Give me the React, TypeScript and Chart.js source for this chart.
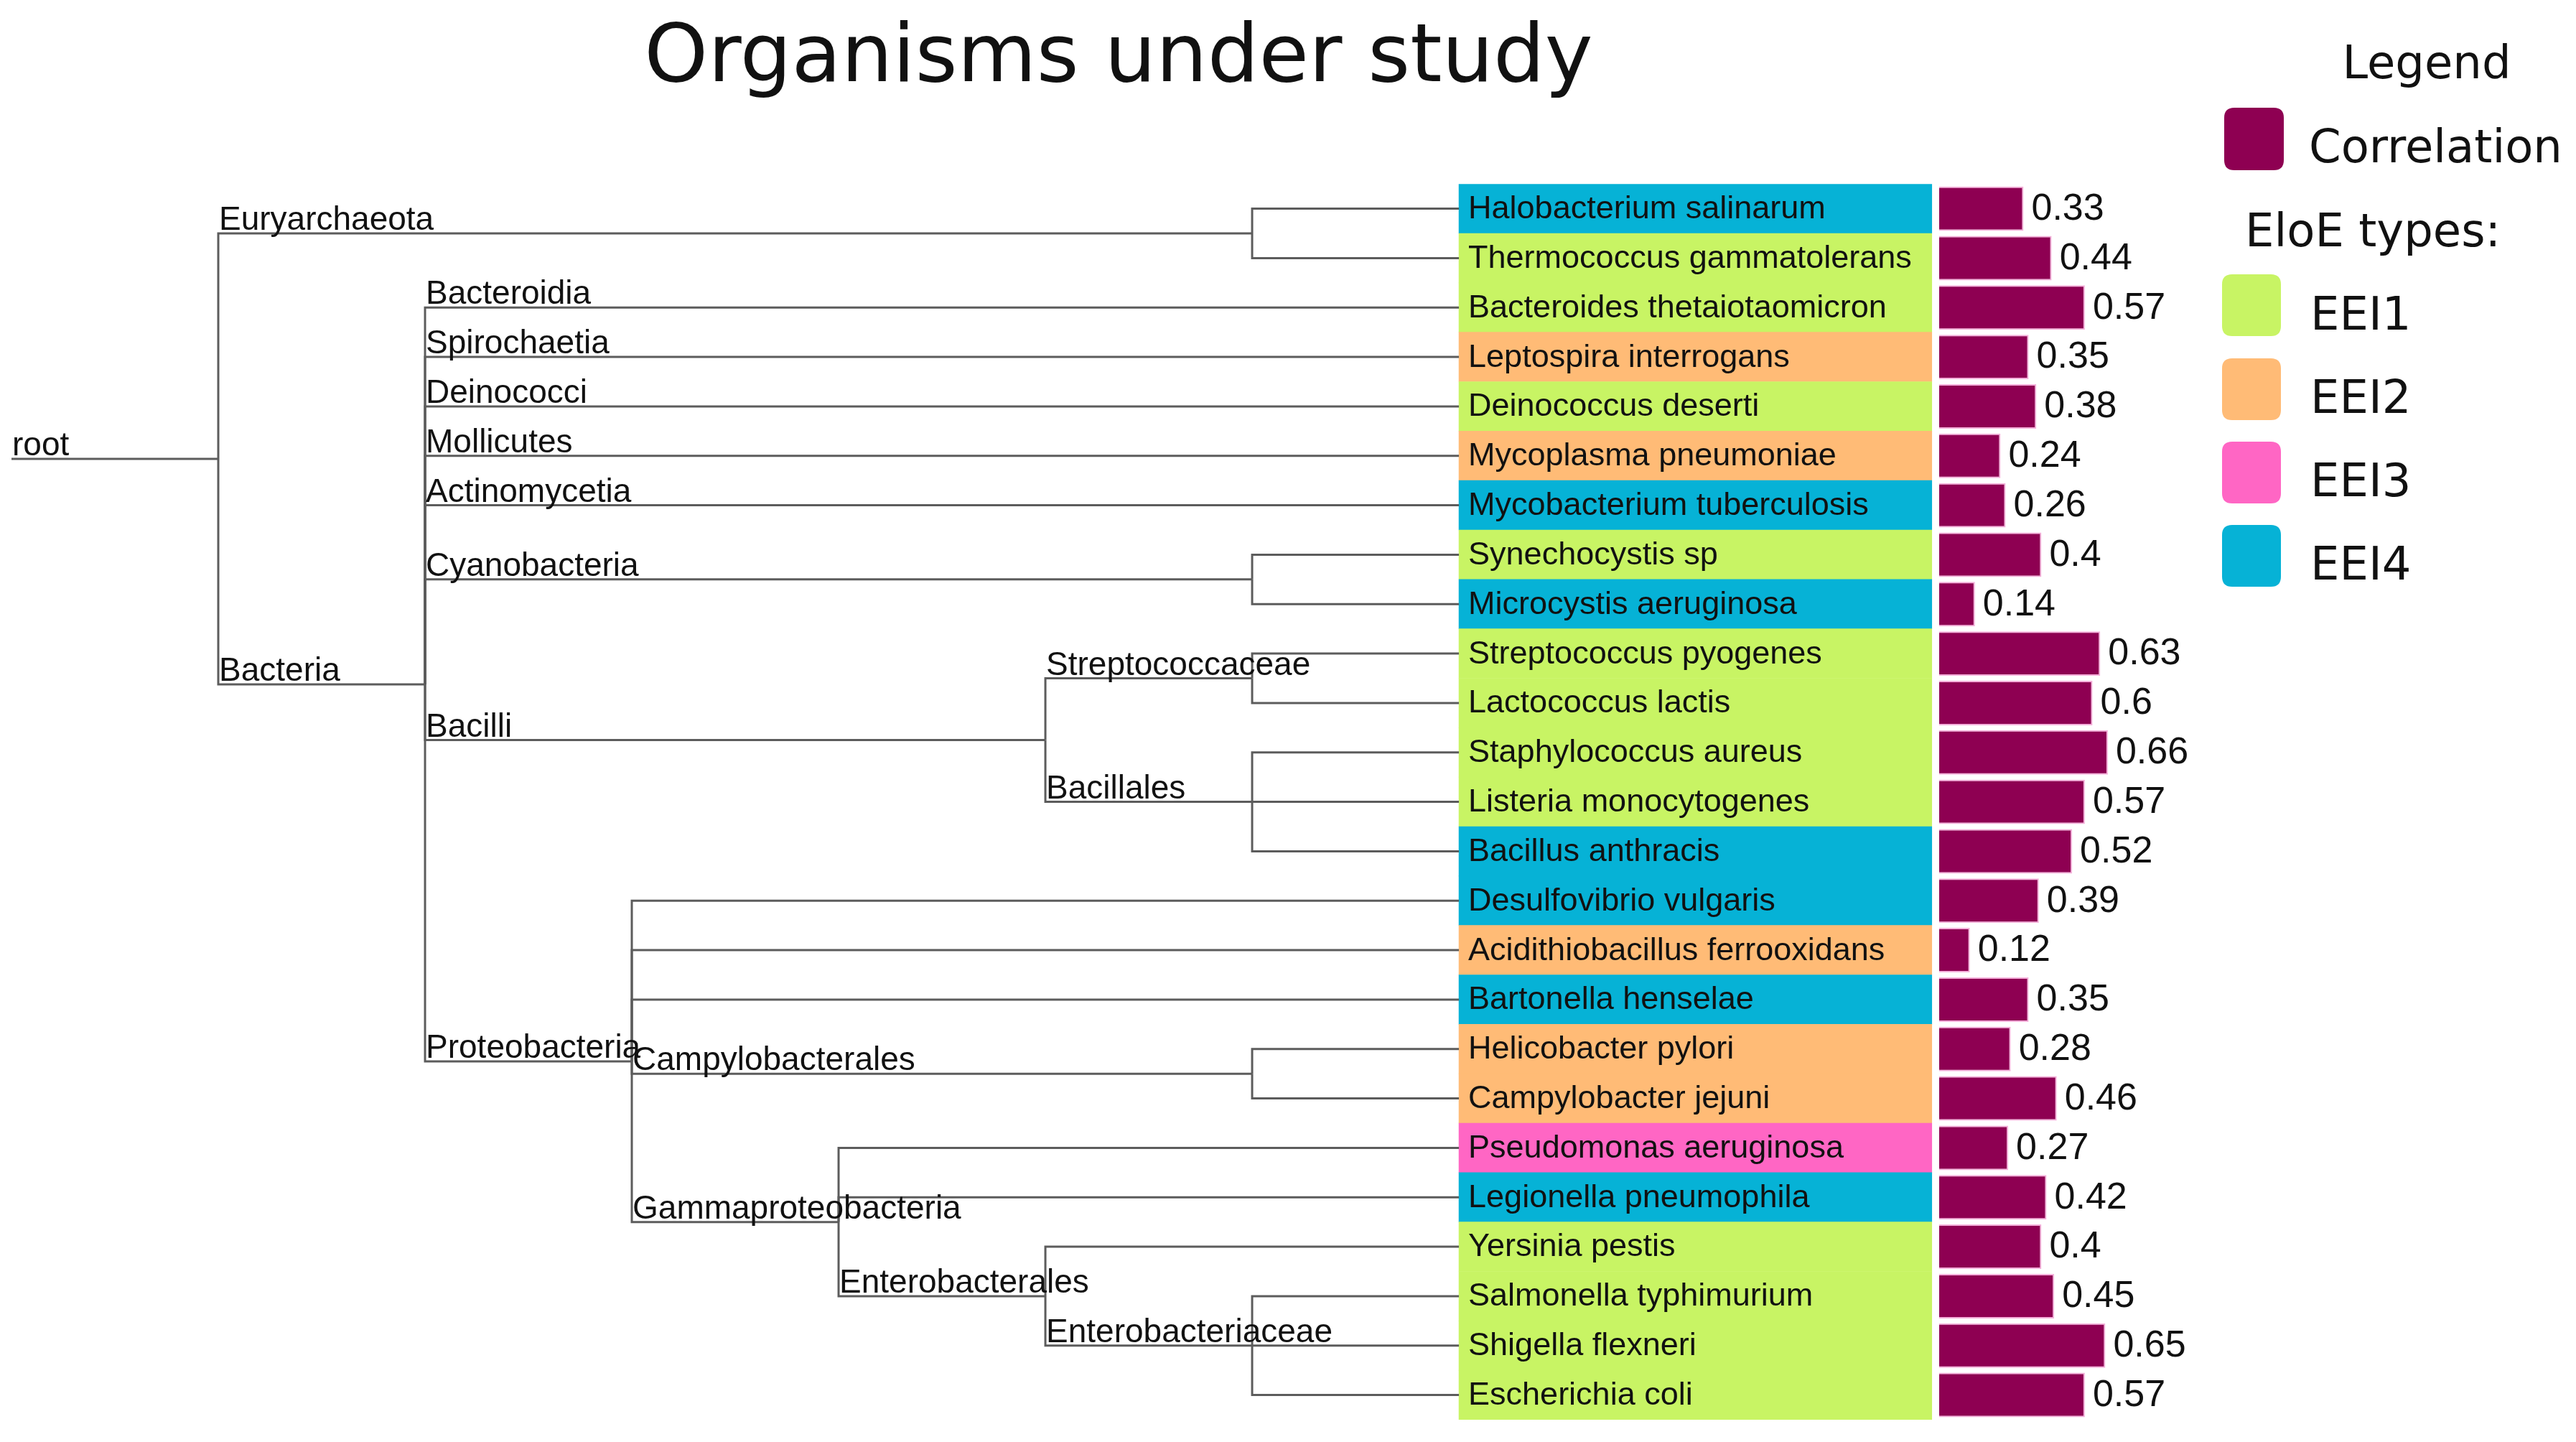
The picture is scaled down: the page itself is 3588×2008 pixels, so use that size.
import React, { useEffect, useRef } from 'react';
import { Chart, registerables } from 'chart.js';

Chart.register(...registerables);

// ---------------- data ----------------
const species = [
  'Halobacterium salinarum',
  'Thermococcus gammatolerans',
  'Bacteroides thetaiotaomicron',
  'Leptospira interrogans',
  'Deinococcus deserti',
  'Mycoplasma pneumoniae',
  'Mycobacterium tuberculosis',
  'Synechocystis sp',
  'Microcystis aeruginosa',
  'Streptococcus pyogenes',
  'Lactococcus lactis',
  'Staphylococcus aureus',
  'Listeria monocytogenes',
  'Bacillus anthracis',
  'Desulfovibrio vulgaris',
  'Acidithiobacillus ferrooxidans',
  'Bartonella henselae',
  'Helicobacter pylori',
  'Campylobacter jejuni',
  'Pseudomonas aeruginosa',
  'Legionella pneumophila',
  'Yersinia pestis',
  'Salmonella typhimurium',
  'Shigella flexneri',
  'Escherichia coli',
];

const correlation = [
  0.33, 0.44, 0.57, 0.35, 0.38, 0.24, 0.26, 0.4, 0.14, 0.63, 0.6, 0.66, 0.57,
  0.52, 0.39, 0.12, 0.35, 0.28, 0.46, 0.27, 0.42, 0.4, 0.45, 0.65, 0.57,
];

const eloeType = [
  'EEI4', 'EEI1', 'EEI1', 'EEI2', 'EEI1', 'EEI2', 'EEI4', 'EEI1', 'EEI4',
  'EEI1', 'EEI1', 'EEI1', 'EEI1', 'EEI4', 'EEI4', 'EEI2', 'EEI4', 'EEI2',
  'EEI2', 'EEI3', 'EEI4', 'EEI1', 'EEI1', 'EEI1', 'EEI1',
];

const eloeTypes = ['EEI1', 'EEI2', 'EEI3', 'EEI4'];
const eloeColors = ['#C8F464', '#FFBB76', '#FF66C4', '#06B2D6'];
const correlationLabel = 'Correlation';
const correlationColor = '#8E0052';

// tree structure
const leafParent = [
  'Euryarchaeota', 'Euryarchaeota', 'Bacteria', 'Bacteria', 'Bacteria', 'Bacteria',
  'Bacteria', 'Cyanobacteria', 'Cyanobacteria', 'Streptococcaceae', 'Streptococcaceae',
  'Bacillales', 'Bacillales', 'Bacillales', 'Proteobacteria', 'Proteobacteria',
  'Proteobacteria', 'Campylobacterales', 'Campylobacterales', 'Gammaproteobacteria',
  'Gammaproteobacteria', 'Enterobacterales', 'Enterobacteriaceae', 'Enterobacteriaceae',
  'Enterobacteriaceae',
];
const leafEdgeLabel = [
  '', '', 'Bacteroidia', 'Spirochaetia', 'Deinococci', 'Mollicutes', 'Actinomycetia',
  '', '', '', '', '', '', '', '', '', '', '', '', '', '', '', '', '', '',
];
const cladeNames = [
  'root', 'Euryarchaeota', 'Bacteria', 'Cyanobacteria', 'Bacilli', 'Streptococcaceae',
  'Bacillales', 'Proteobacteria', 'Campylobacterales', 'Gammaproteobacteria',
  'Enterobacterales', 'Enterobacteriaceae',
];
const cladeDepth = [1, 6, 2, 6, 5, 6, 6, 3, 6, 4, 5, 6];
const cladeParent: (string | null)[] = [
  null, 'root', 'root', 'Bacteria', 'Bacteria', 'Bacilli', 'Bacilli', 'Bacteria',
  'Proteobacteria', 'Proteobacteria', 'Gammaproteobacteria', 'Enterobacterales',
];
const LEAF_DEPTH = 7;
const BOX_END_DEPTH = 9.287;

const titleText = 'Organisms under study';
const legendTitle = 'Legend';
const eloeHeader = 'EloE types:';

// ---------------- tree layout ----------------
type Edge = { points: { x: number; y: number }[]; label: string; lx: number; ly: number };

function buildEdges(): Edge[] {
  const cladeY: number[] = cladeNames.map(() => NaN);
  const idx = (n: string) => cladeNames.indexOf(n);
  const yOf = (ci: number): number => {
    if (!isNaN(cladeY[ci])) return cladeY[ci];
    const name = cladeNames[ci];
    const ys: number[] = [];
    leafParent.forEach((p, i) => { if (p === name) ys.push(i); });
    cladeParent.forEach((p, j) => { if (p === name) ys.push(yOf(j)); });
    const v = (Math.min(...ys) + Math.max(...ys)) / 2;
    cladeY[ci] = v;
    return v;
  };
  cladeNames.forEach((_, ci) => yOf(ci));

  const edges: Edge[] = [];
  const r = cladeParent.indexOf(null);
  edges.push({
    points: [{ x: 0, y: cladeY[r] }, { x: cladeDepth[r], y: cladeY[r] }],
    label: cladeNames[r], lx: 0, ly: cladeY[r],
  });
  cladeNames.forEach((name, ci) => {
    const pn = cladeParent[ci];
    if (pn === null) return;
    const pi = idx(pn);
    const px = cladeDepth[pi];
    const py = cladeY[pi];
    const cy = cladeY[ci];
    edges.push({
      points: [{ x: px, y: py }, { x: px, y: cy }, { x: cladeDepth[ci], y: cy }],
      label: name, lx: px, ly: cy,
    });
  });
  species.forEach((_, i) => {
    const pi = idx(leafParent[i]);
    const px = cladeDepth[pi];
    const py = cladeY[pi];
    edges.push({
      points: [{ x: px, y: py }, { x: px, y: i }, { x: LEAF_DEPTH, y: i }],
      label: leafEdgeLabel[i], lx: px, ly: i,
    });
  });
  return edges;
}

const SANS = '"Liberation Sans", Arial, sans-serif';
const DEJA = '"DejaVu Sans", Verdana, sans-serif';

function roundRect(ctx: CanvasRenderingContext2D, x: number, y: number, w: number, h: number, r: number) {
  ctx.beginPath();
  ctx.moveTo(x + r, y);
  ctx.lineTo(x + w - r, y);
  ctx.quadraticCurveTo(x + w, y, x + w, y + r);
  ctx.lineTo(x + w, y + h - r);
  ctx.quadraticCurveTo(x + w, y + h, x + w - r, y + h);
  ctx.lineTo(x + r, y + h);
  ctx.quadraticCurveTo(x, y + h, x, y + h - r);
  ctx.lineTo(x, y + r);
  ctx.quadraticCurveTo(x, y, x + r, y);
  ctx.closePath();
}

export default function App() {
  const ref = useRef<HTMLCanvasElement | null>(null);

  useEffect(() => {
    const canvas = ref.current;
    if (!canvas) return;
    const edges = buildEdges();

    const lineDatasets = edges.map((e) => ({
      type: 'line' as const,
      data: e.points,
      xAxisID: 'xt',
      yAxisID: 'y',
      indexAxis: 'x' as const,
      borderColor: '#5c5c5c',
      borderWidth: 3,
      pointRadius: 0,
      pointHoverRadius: 0,
      fill: false,
      tension: 0,
      borderJoinStyle: 'miter' as const,
      borderCapStyle: 'butt' as const,
    }));

    const boxDataset = {
      type: 'bar' as const,
      label: 'EloE',
      data: species.map((_, i) => ({ y: i, x: [LEAF_DEPTH, BOX_END_DEPTH] })),
      xAxisID: 'xt',
      yAxisID: 'y',
      indexAxis: 'y' as const,
      grouped: false,
      barPercentage: 1,
      categoryPercentage: 1,
      backgroundColor: eloeType.map((t) => eloeColors[eloeTypes.indexOf(t)]),
      borderWidth: 0,
    };

    const barDataset = {
      type: 'bar' as const,
      label: correlationLabel,
      data: correlation.map((v, i) => ({ y: i, x: v })),
      xAxisID: 'x',
      yAxisID: 'y',
      indexAxis: 'y' as const,
      grouped: false,
      barPercentage: 0.9,
      categoryPercentage: 1,
      backgroundColor: correlationColor,
      borderColor: '#F4B0DA',
      borderWidth: 2,
    };

    const overlay = {
      id: 'overlay',
      afterDatasetsDraw(chart: any) {
        const ctx: CanvasRenderingContext2D = chart.ctx;
        const xt = chart.scales.xt;
        const xv = chart.scales.x;
        const ys = chart.scales.y;
        ctx.save();
        ctx.fillStyle = '#111';
        ctx.textAlign = 'left';
        // clade labels on tree
        ctx.font = `46px ${SANS}`;
        ctx.textBaseline = 'alphabetic';
        edges.forEach((e) => {
          if (!e.label) return;
          ctx.fillText(e.label, xt.getPixelForValue(e.lx) + 1, ys.getPixelForValue(e.ly) - 5);
        });
        // species names in coloured boxes
        ctx.font = `45px ${SANS}`;
        ctx.textBaseline = 'middle';
        species.forEach((s, i) => {
          ctx.fillText(s, xt.getPixelForValue(LEAF_DEPTH) + 13, ys.getPixelForValue(i) + 1);
        });
        // correlation values
        ctx.font = `52px ${SANS}`;
        correlation.forEach((v, i) => {
          ctx.fillText(String(v), xv.getPixelForValue(v) + 11, ys.getPixelForValue(i) + 1);
        });
        ctx.restore();
      },
      afterDraw(chart: any) {
        const ctx: CanvasRenderingContext2D = chart.ctx;
        ctx.save();
        ctx.fillStyle = '#111';
        ctx.textBaseline = 'alphabetic';
        ctx.font = `64px ${DEJA}`;
        ctx.textAlign = 'center';
        ctx.fillText(legendTitle, 3380, 109);
        ctx.textAlign = 'left';
        // correlation entry
        ctx.fillStyle = correlationColor;
        roundRect(ctx, 3098, 150, 83, 87, 14);
        ctx.fill();
        ctx.fillStyle = '#111';
        ctx.fillText(correlationLabel, 3216, 226);
        ctx.fillText(eloeHeader, 3127, 343);
        const tops = [382, 499, 615, 731];
        const bases = [459, 575, 691, 807];
        eloeTypes.forEach((t, k) => {
          ctx.fillStyle = eloeColors[k];
          roundRect(ctx, 3095, tops[k], 82, 86, 14);
          ctx.fill();
          ctx.fillStyle = '#111';
          ctx.fillText(t, 3218, bases[k]);
        });
        ctx.restore();
      },
    };

    const chart = new Chart(canvas, {
      type: 'bar',
      data: { datasets: [...lineDatasets, boxDataset, barDataset] as any },
      options: {
        animation: false,
        responsive: false,
        devicePixelRatio: 1,
        layout: { padding: { left: 16, right: 488, top: 0, bottom: 31 } },
        plugins: {
          legend: { display: false },
          tooltip: { enabled: false },
          title: {
            display: true,
            text: titleText,
            color: '#111',
            font: { family: '"DejaVu Sans", Verdana, sans-serif', size: 113, weight: 'normal', lineHeight: 1.2 },
            padding: { top: 16, bottom: 104.6 },
          },
        },
        scales: {
          xt: { type: 'linear', axis: 'x', position: 'bottom', display: false, offset: false, min: 0, max: 10.708 },
          x: { type: 'linear', axis: 'x', position: 'bottom', display: false, offset: false, min: -7.542, max: 1.1208 },
          y: {
            type: 'linear', axis: 'y', display: false, offset: false, reverse: true, min: -0.5, max: 24.5,
            afterBuildTicks: (scale: any) => {
              scale.ticks = species.map((_, i) => ({ value: i }));
            },
          },
        },
      } as any,
      plugins: [overlay],
    });
    return () => chart.destroy();
  }, []);

  return (
    <div style={{ position: 'absolute', left: 0, top: 0, width: 3588, height: 2008, background: '#fff' }}>
      <canvas ref={ref} width={3588} height={2008} style={{ width: 3588, height: 2008, display: 'block' }} />
    </div>
  );
}
